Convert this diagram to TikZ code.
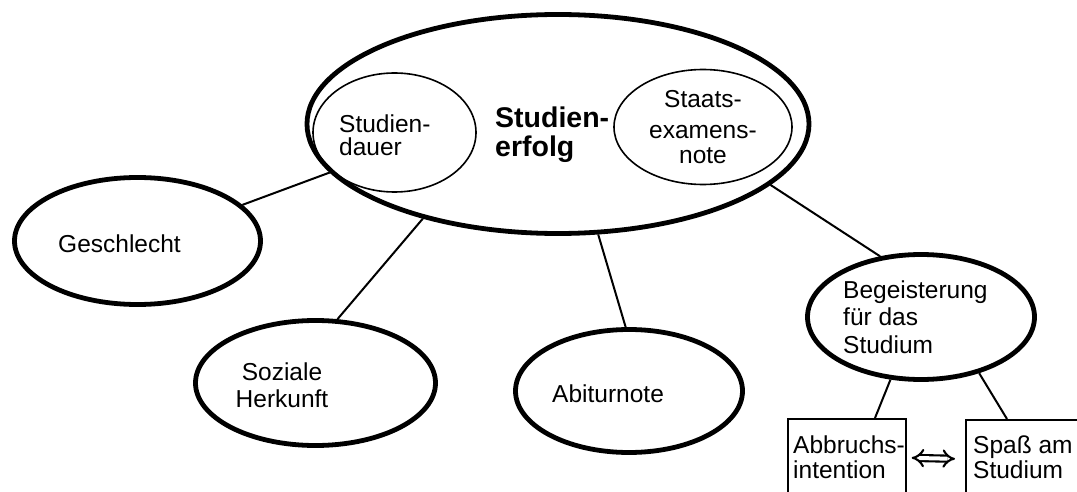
\documentclass[tikz,border=0pt]{standalone}
\usepackage{fontspec}
\setmainfont{Liberation Sans}
\usetikzlibrary{arrows.meta,calc,shapes.geometric}
\begin{document}
\begin{tikzpicture}[x=1pt,y=-1pt,
  oval/.style={draw, ellipse, line width=4.8pt, inner sep=-40pt},
  ioval/.style={draw, ellipse, line width=1.6pt, inner sep=-40pt},
  lbl/.style={inner sep=0pt, font=\fontsize{24.5}{27}\selectfont},
  blbl/.style={inner sep=0pt, font=\fontsize{28.5}{29}\selectfont\bfseries},
  conn/.style={line width=2pt},
  boxn/.style={draw, rectangle, line width=1.7pt, inner sep=0pt, anchor=north west}]
\useasboundingbox (0,0) rectangle (1077,492);
\fill[white] (0,0) rectangle (1077,492);

\node[oval, minimum width=502pt, minimum height=219pt] (big) at (558,124) {};
\node[ioval, minimum width=163pt, minimum height=119pt] (dauer) at (394.5,132.5) {};
\node[ioval, minimum width=178pt, minimum height=115pt] (staats) at (703,127) {};
\node[oval, minimum width=246pt, minimum height=127pt] (geschl) at (137.5,241) {};
\node[oval, minimum width=240pt, minimum height=125pt] (soz) at (315.5,383) {};
\node[oval, minimum width=227pt, minimum height=123pt] (abi) at (629,391) {};
\node[oval, minimum width=227pt, minimum height=125pt] (beg) at (921,317) {};
\node[boxn, minimum width=118pt, minimum height=90pt] (abb) at (787,418) {};
\node[boxn, minimum width=130pt, minimum height=90pt] (spass) at (965,419) {};

\node[blbl, anchor=base west, align=left] (big-t) at (495,157) {Studien-\\erfolg};
\node[lbl, anchor=base west, align=left, font=\fontsize{24.5}{23}\selectfont] (dauer-t) at (339,156) {Studien-\\dauer};
\node[lbl, anchor=base, align=center, font=\fontsize{24.5}{25.5}\selectfont] (staats-t) at (703,164) {Staats-\\[5pt]examens-\\note};
\node[lbl, anchor=base west] (geschl-t) at (58,252) {Geschlecht};
\node[lbl, anchor=base, align=center] (soz-t) at (282,407) {Soziale\\Herkunft};
\node[lbl, anchor=base west] (abi-t) at (552,402) {Abiturnote};
\node[lbl, anchor=base west, align=left, font=\fontsize{24.5}{27.5}\selectfont] (beg-t) at (843,353) {Begeisterung\\für das\\Studium};
\node[lbl, anchor=base west, align=left, font=\fontsize{24.5}{25}\selectfont] (abb-t) at (793,478) {Abbruchs-\\intention};
\node[lbl, anchor=base west, align=left, font=\fontsize{24.5}{25}\selectfont] (spass-t) at (973,478) {Spaß am\\Studium};

\draw[conn] (geschl.19) -- (big.192.8);
\draw[conn] (soz.71.7) -- (big.215.8);
\draw[conn] (abi.93.5) -- (big.290);
\draw[conn] (beg.124.5) -- (big.344.4);
\draw[conn] (beg.244.5) -- ([xshift=88pt]abb.north west);
\draw[conn] (beg.316.4) -- ([xshift=42pt]spass.north west);
\draw[line width=2.1pt, double distance=4pt, {Implies}-{Implies}]
  ([xshift=5pt,yshift=6pt]abb.east) -- ([xshift=-10pt,yshift=6pt]spass.west);
\end{tikzpicture}
\end{document}
